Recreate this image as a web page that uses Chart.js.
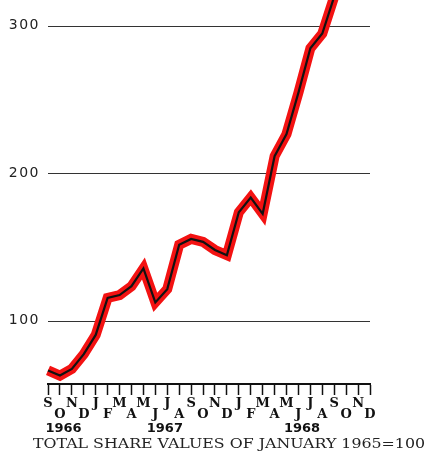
<!DOCTYPE html>
<html>
<head>
<meta charset="utf-8">
<script src="https://cdn.jsdelivr.net/npm/chart.js@4/dist/chart.umd.min.js"></script>
<style>
  html, body { margin: 0; padding: 0; background: #fff; }
  #wrap { width: 436px; height: 454px; }
</style>
</head>
<body>
<div id="wrap"><canvas id="chart" width="436" height="454"></canvas></div>
<script>
// months from September 1966 to December 1968
const months = ['S','O','N','D','J','F','M','A','M','J','J','A','S','O','N','D','J','F','M','A','M','J','J','A','S','O','N','D'];
// total share values, January 1965 = 100 (last months run off the top of the sheet)
const shareIndex = [67, 63.5, 68, 78, 91, 116, 118, 124, 136, 113, 122, 152, 156, 154, 148.5, 145,
                    174, 184, 173, 212, 227, 255, 285, 295, 320, null, null, null];
const yTicks = [100, 200, 300];
const years = ['1966', '1967', '1968'];
const footnote = 'TOTAL SHARE VALUES OF JANUARY 1965=100';

// where the year labels sit, as a (fractional) month index
const yearAnchor = [1.3, 9.8, 21.3];

// draws the value labels, the year row and the footnote
const captionPlugin = {
  id: 'caption',
  afterDraw(chart) {
    const ctx = chart.ctx;
    const x = chart.scales.x;
    const y = chart.scales.y;
    const area = chart.chartArea;
    ctx.save();

    // value labels, hand-lettered look: wide and thin
    ctx.fillStyle = '#222';
    ctx.font = '14px "DejaVu Sans"';
    ctx.textAlign = 'right';
    ctx.textBaseline = 'middle';
    if ('letterSpacing' in ctx) ctx.letterSpacing = '1.5px';
    yTicks.forEach(v => {
      ctx.fillText(String(v), area.left - 8, y.getPixelForValue(v) - 1);
    });
    if ('letterSpacing' in ctx) ctx.letterSpacing = '0px';

    ctx.fillStyle = '#111';
    ctx.textAlign = 'center';
    ctx.font = 'bold 13px "DejaVu Sans"';
    years.forEach((yr, i) => {
      ctx.fillText(yr, x.getPixelForValue(yearAnchor[i]), area.bottom + 45);
    });

    // footnote stretched across the bottom edge
    ctx.font = '13px "DejaVu Serif"';
    ctx.fillStyle = '#222';
    const w = ctx.measureText(footnote).width;
    const target = 392;
    ctx.translate(33, area.bottom + 61);
    ctx.scale(target / w, 1);
    ctx.textAlign = 'left';
    ctx.fillText(footnote, 0, 0);
    ctx.restore();
  }
};

const line = {
  data: shareIndex,
  tension: 0,
  pointRadius: 0,
  pointHoverRadius: 0,
  borderJoinStyle: 'miter',
  borderCapStyle: 'butt',
  fill: false
};

new Chart(document.getElementById('chart'), {
  type: 'line',
  data: {
    labels: months,
    datasets: [
      Object.assign({}, line, { borderColor: '#111', borderWidth: 2.2, order: 0 }),
      Object.assign({}, line, { borderColor: '#f31212', borderWidth: 10, order: 1 })
    ]
  },
  options: {
    responsive: false,
    animation: false,
    events: [],
    layout: { padding: { left: 0, right: 66, top: 0, bottom: 0 } },
    plugins: { legend: { display: false }, tooltip: { enabled: false } },
    scales: {
      x: {
        offset: false,
        afterFit(scale) {
          scale.height = 70;
          scale.paddingLeft = 0;
          scale.paddingRight = 0;
        },
        border: { display: true, color: '#111', width: 2 },
        grid: {
          drawOnChartArea: false,
          drawTicks: true,
          tickLength: 11,
          tickColor: '#111',
          tickWidth: 1.5
        },
        ticks: {
          autoSkip: false,
          maxRotation: 0,
          minRotation: 0,
          padding: 3,
          color: '#111',
          font: { family: 'DejaVu Serif', size: 13, weight: 'bold', lineHeight: 0.85 },
          callback: (v, i) => (i % 2 ? ['', months[i]] : [months[i]])
        }
      },
      y: {
        min: 57.8,
        max: 317.7,
        afterFit(scale) {
          scale.width = 48;
          scale.paddingTop = 0;
          scale.paddingBottom = 0;
        },
        afterBuildTicks(scale) { scale.ticks = yTicks.map(v => ({ value: v })); },
        border: { display: false },
        grid: { color: '#333', lineWidth: 1, drawTicks: false },
        ticks: { display: false }
      }
    }
  },
  plugins: [captionPlugin]
});
</script>
</body>
</html>
